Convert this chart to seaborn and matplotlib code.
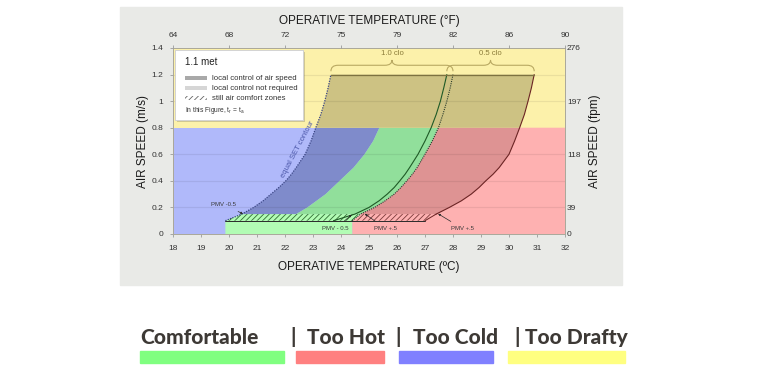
import numpy as np
import matplotlib
matplotlib.use("Agg")
import matplotlib.pyplot as plt
import seaborn as sns
from matplotlib.patches import Polygon, Rectangle, FancyBboxPatch, PathPatch
from matplotlib.path import Path
import matplotlib.patheffects as pe

# --------------------------
# Data
# --------------------------
# air speed levels (m/s) at which the boundary temperatures were read
v_levels = [0.10, 0.15, 0.2, 0.25, 0.3, 0.35, 0.4, 0.45, 0.5, 0.6, 0.7, 0.8, 0.9, 1.0, 1.1, 1.2]
# 1.0 clo: equal SET contour (cool edge, dotted) and PMV +0.5 edge (solid)
set_10clo = [19.87, 20.46, 20.88, 21.22, 21.5, 21.78, 22.03, 22.23, 22.4, 22.72, 22.93, 23.1,
             23.28, 23.42, 23.54, 23.64]
pmv_10clo = [23.73, 24.5, 25.0, 25.36, 25.65, 25.9, 26.1, 26.29, 26.45, 26.75, 27.0, 27.22,
             27.4, 27.55, 27.67, 27.78]
# 0.5 clo: cool edge (dotted) and warm edge (solid)
set_05clo = [24.4, 24.7, 25.2, 25.58, 25.9, 26.14, 26.35, 26.55, 26.72, 27.0, 27.26, 27.48,
             27.64, 27.78, 27.9, 28.0]
pmv_05clo = [27.0, 27.4, 27.87, 28.3, 28.65, 28.93, 29.17, 29.43, 29.65, 30.0, 30.2, 30.38,
             30.55, 30.68, 30.8, 30.9]
# boundary of the "too cold" colour overlay
v_cold = [0.15, 0.2, 0.3, 0.4, 0.5, 0.6, 0.7, 0.8]
t_cold = [22.4, 22.8, 23.45, 23.95, 24.45, 24.84, 25.15, 25.37]

still_air_low = 0.10    # bottom of still-air comfort zones
still_air_high = 0.15   # top of still-air comfort zones
drafty_limit = 0.8      # above this: too drafty
top_speed = 1.2

c_ticks = list(range(18, 33))
f_pos = [18, 20, 22, 24, 26, 28, 30, 32]
f_labels = ["64", "68", "72", "75", "79", "82", "86", "90"]
ms_ticks = [0, 0.2, 0.4, 0.6, 0.8, 1.0, 1.2, 1.4]
ms_labels = ["0", "0.2", "0.4", "0.6", "0.8", "1", "1.2", "1.4"]
fpm_pos = [0, 0.2, 0.6, 1.0, 1.4]
fpm_labels = ["0", "39", "118", "197", "276"]

clo_braces = [("1.0 clo", 23.64, 28.0), ("0.5 clo", 27.78, 30.9)]
pmv_notes = [("PMV -0.5", (19.8, 0.222), (20.5, 0.152)),
             ("PMV - 0.5", (23.8, 0.04), (24.38, 0.145)),
             ("PMV +.5", (25.6, 0.04), (24.85, 0.152)),
             ("PMV +.5", (28.35, 0.04), (27.47, 0.152))]

key_labels = ["Comfortable", "Too Hot", "Too Cold", "Too Drafty"]
key_colors = ["#80ff80", "#ff8080", "#8080ff", "#ffff80"]

# colours
YELLOW, KHAKI = "#fcf1aa", "#cdc283"
BLUE_L, BLUE_D = "#b0b9fa", "#7f8bcb"
GREEN_L, GREEN_D = "#b2fcb4", "#91df9b"
PINK_L, PINK_D = "#feb1b1", "#de9393"

sns.set_theme(style="white")
plt.rcParams["font.family"] = ["Liberation Sans", "DejaVu Sans"]
plt.rcParams["mathtext.default"] = "regular"
plt.rcParams["hatch.linewidth"] = 0.6

W, H = 768, 373
fig = plt.figure(figsize=(W / 100, H / 100), dpi=100, facecolor="white")
fig.patches.append(Rectangle((120 / W, 1 - 285 / H), 502 / W, 278 / H,
                             transform=fig.transFigure, color="#e9eae7", zorder=-10))
ax = fig.add_axes([173 / W, 139 / H, 392 / W, 186 / H])
ax.set_xlim(18, 32)
ax.set_ylim(0, 1.4)


def poly(xs, ys, color, z=1, **kw):
    ax.add_patch(Polygon(np.column_stack([xs, ys]), closed=True, facecolor=color,
                         edgecolor="none", zorder=z, **kw))


v = np.array(v_levels)
s10, p10 = np.array(set_10clo), np.array(pmv_10clo)
s05, p05 = np.array(set_05clo), np.array(pmv_05clo)
i15 = v_levels.index(still_air_high)
i08 = v_levels.index(drafty_limit)

# base bands
ax.axhspan(drafty_limit, 1.4, color=YELLOW, zorder=0.5, lw=0)
ax.axhspan(0, drafty_limit, color=BLUE_L, zorder=0.5, lw=0)

# too hot (light)
poly([s05[0], 32, 32] + list(s05[:i08 + 1][::-1]),
     [0, 0, drafty_limit] + list(v[:i08 + 1][::-1]), PINK_L)
# light green still-air strip
poly([set_10clo[0], s05[0], s05[0], s05[1], s10[1], s10[0]],
     [0, 0, still_air_low, still_air_high, still_air_high, still_air_low], GREEN_L)
# darker zones (local control of air speed)
poly(list(s10[i15:i08 + 1]) + t_cold[::-1],
     list(v[i15:i08 + 1]) + v_cold[::-1], BLUE_D, z=1.2)
poly(t_cold + list(s05[i15:i08 + 1][::-1]),
     v_cold + list(v[i15:i08 + 1][::-1]), GREEN_D, z=1.2)
poly(list(s05[i15:i08 + 1]) + list(p05[i15:i08 + 1][::-1]),
     list(v[i15:i08 + 1]) + list(v[i15:i08 + 1][::-1]), PINK_D, z=1.2)
poly(list(s10[i08:]) + list(p05[i08:][::-1]),
     list(v[i08:]) + list(v[i08:][::-1]), KHAKI, z=1.2)

# grid lines
for g in [0.2, 0.4, 0.6, 1.0, 1.2]:
    ax.axhline(g, color="black", alpha=0.07, lw=0.9, zorder=1.5)

# still air comfort zones (hatched)
ax.add_patch(Polygon([(s10[0], still_air_low), (s05[0], still_air_low),
                      (s05[1], still_air_high), (s10[1], still_air_high)],
                     facecolor="none", edgecolor="#2f6b33", hatch="//////", lw=0, zorder=2))
ax.add_patch(Polygon([(s05[0], still_air_low), (p05[0], still_air_low),
                      (p05[1], still_air_high), (s05[1], still_air_high)],
                     facecolor="none", edgecolor="#7a3a3a", hatch="//////", lw=0, zorder=2))
ax.plot([s10[0], p05[0]], [still_air_low, still_air_low], color="#2a2a2a", lw=0.7, zorder=3)
ax.plot([p05[0], p05[1]], [still_air_low, still_air_high], color="#6b2424", lw=0.7, zorder=3)

# boundary curves
sns.lineplot(x=s10, y=v, sort=False, estimator=None, color="#3a4585", lw=0.9,
             linestyle=(0, (1, 1)), ax=ax, zorder=3)
sns.lineplot(x=p10, y=v, sort=False, estimator=None, color="#1f5a26", lw=0.8, ax=ax, zorder=3)
sns.lineplot(x=s05, y=v, sort=False, estimator=None, color="#2b3b2b", lw=0.8,
             linestyle=(0, (1, 1)), ax=ax, zorder=3)
sns.lineplot(x=p05[1:], y=v[1:], sort=False, estimator=None, color="#6b2424", lw=0.8, ax=ax, zorder=3)
ax.plot([s10[-1], p05[-1]], [top_speed, top_speed], color="#7d7240", lw=0.9, zorder=3)


# clo braces
def brace(x0, x1, y0=1.225, ym=1.27, yt=1.31, r=0.25, color="#b9a962"):
    xm = (x0 + x1) / 2
    verts = [(x0, y0), (x0, ym), (x0 + r, ym), (xm - r, ym), (xm, ym), (xm, yt),
             (xm, ym), (xm + r, ym), (x1 - r, ym), (x1, ym), (x1, y0)]
    codes = [Path.MOVETO, Path.CURVE3, Path.CURVE3, Path.LINETO, Path.CURVE3, Path.CURVE3,
             Path.CURVE3, Path.CURVE3, Path.LINETO, Path.CURVE3, Path.CURVE3]
    ax.add_patch(PathPatch(Path(verts, codes), facecolor="none", edgecolor=color, lw=0.8, zorder=3))
    return xm


for lab, x0, x1 in clo_braces:
    xm = brace(x0, x1)
    ax.text(xm, 1.36, lab, ha="center", va="center", fontsize=5.6, color="#8c7d3a", zorder=4)

# PMV notes
for lab, xy_text, xy in pmv_notes:
    ax.annotate(lab, xy=xy, xytext=xy_text, ha="center", va="center", fontsize=4.3,
                color="#3a3a3a", zorder=4,
                arrowprops=dict(arrowstyle="-|>", lw=0.5, color="#2a2a2a",
                                mutation_scale=3, shrinkA=2, shrinkB=0))

ax.text(22.45, 0.64, "equal SET contour", rotation=62, rotation_mode="anchor",
        ha="center", va="center", fontsize=5.5, color="#4a56a8", zorder=4)

# legend box
box = FancyBboxPatch((0.005, 0.613), 0.327, 0.376, boxstyle="square,pad=0",
                     transform=ax.transAxes, facecolor="white", edgecolor="#d0d0d0",
                     lw=0.6, zorder=5,
                     path_effects=[pe.withSimplePatchShadow(offset=(1.2, -1.2), alpha=0.25),
                                   pe.Normal()])
ax.add_patch(box)
ax.text(0.031, 0.926, "1.1 met", transform=ax.transAxes, fontsize=7, va="center",
        color="#222222", zorder=6)
leg_items = [("local control of air speed", "#a9a9a9", None),
             ("local control not required", "#d6d6d6", None),
             ("still air comfort zones", "none", "//////")]
for k, (lab, fc, hatch) in enumerate(leg_items):
    yy = 0.837 - k * 0.0535
    ax.add_patch(Rectangle((0.031, yy - 0.011), 0.056, 0.022, transform=ax.transAxes,
                           facecolor=fc, edgecolor="#666666" if hatch else "none",
                           hatch=hatch, lw=0, zorder=6))
    ax.text(0.099, yy, lab, transform=ax.transAxes, fontsize=5.6, va="center",
            color="#333333", zorder=6)
ax.text(0.031, 0.663, "In this Figure, $t_r$ = $t_a$", transform=ax.transAxes,
        fontsize=4.8, va="center", color="#333333", zorder=6)

# axes, ticks, labels
tick_col = "#333333"
ax.set_xticks(c_ticks)
ax.set_yticks(ms_ticks)
ax.set_yticklabels(ms_labels)
ax.tick_params(axis="both", labelsize=6, colors="#9a9a9a", labelcolor=tick_col,
               length=2.5, width=0.6, direction="out")
ax.tick_params(axis="x", pad=5.5)
ax.tick_params(axis="y", pad=4.5)
ax.set_xlabel("OPERATIVE TEMPERATURE (ºC)", fontsize=8.5, color="#1a1a1a", labelpad=6.5)
ax.set_ylabel("AIR SPEED (m/s)", fontsize=8.5, color="#1a1a1a", labelpad=2)
for sp in ax.spines.values():
    sp.set_color("#aaa79a")
    sp.set_linewidth(0.7)

axt = ax.twiny()
axt.set_xlim(18, 32)
axt.set_xticks(f_pos)
axt.set_xticklabels(f_labels)
axt.tick_params(axis="x", labelsize=6, colors="#9a9a9a", labelcolor=tick_col,
                length=2, width=0.6, pad=4.5)
axt.set_xlabel("OPERATIVE TEMPERATURE (°F)", fontsize=8.5, color="#1a1a1a", labelpad=5.5)

axr = ax.twinx()
axr.set_ylim(0, 1.4)
axr.set_yticks(fpm_pos)
axr.set_yticklabels(fpm_labels)
axr.tick_params(axis="y", labelsize=6, colors="#9a9a9a", labelcolor=tick_col,
                length=0, pad=1.5)
axr.set_ylabel("AIR SPEED (fpm)", fontsize=8.5, color="#1a1a1a", labelpad=6)
for a in (axt, axr):
    for sp in a.spines.values():
        sp.set_visible(False)

# colour key under the chart
key_text_x = [140, 307, 413, 525]
sep_x = [293, 398, 517]
bars = [(140, 284), (296, 384), (399, 493), (508, 625)]
kfont = dict(fontsize=15, fontweight=900, color="#3d3935", family=["Lato", "DejaVu Sans"],
             va="baseline", transform=fig.transFigure)
for lab, x in zip(key_labels, key_text_x):
    fig.text(x / W, 1 - 344 / H, lab, ha="left", **kfont)
for x in sep_x:
    fig.text(x / W, 1 - 344 / H, "|", ha="center", **kfont)
for (x0, x1), col in zip(bars, key_colors):
    fig.patches.append(Rectangle((x0 / W, 1 - 363 / H), (x1 - x0) / W, 12 / H,
                                 transform=fig.transFigure, color=col, zorder=1))

fig.savefig("out.png", dpi=100)
